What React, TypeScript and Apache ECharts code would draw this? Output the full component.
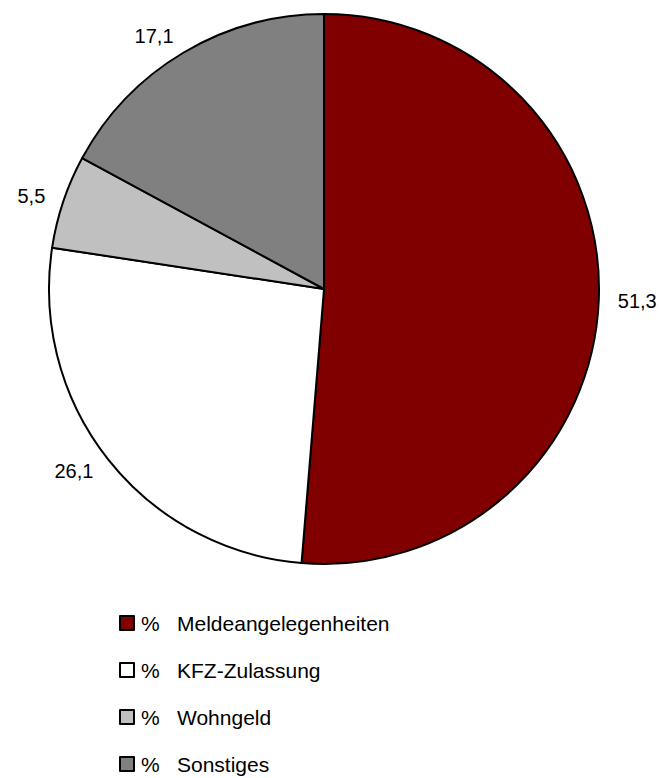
import React, { useEffect, useRef } from "react";
import * as echarts from "echarts";

const categories = ["Meldeangelegenheiten", "KFZ-Zulassung", "Wohngeld", "Sonstiges"];
const values = [51.3, 26.1, 5.5, 17.1];
const colors = ["#800000", "#FFFFFF", "#C0C0C0", "#808080"];

const FONT = "'Liberation Sans', Arial, Helvetica, sans-serif";

export default function App() {
  const ref = useRef<HTMLDivElement>(null);
  useEffect(() => {
    if (!ref.current) return;
    const chart = echarts.init(ref.current, null, { renderer: "svg" });
    chart.setOption({
      animation: false,
      backgroundColor: "#ffffff",
      legend: {
        orient: "vertical",
        left: 119,
        top: 610,
        padding: 0,
        icon: "rect",
        itemWidth: 14,
        itemHeight: 14,
        itemGap: 21,
        selectedMode: false,
        itemStyle: { borderColor: "#000000", borderWidth: 2 },
        formatter: (name: string) => `{p|%}{n|${name}}`,
        textStyle: {
          fontFamily: FONT,
          fontSize: 21,
          color: "#000000",
          lineHeight: 26,
          rich: {
            p: { width: 36, padding: [0, 0, 0, 2], fontFamily: FONT, fontSize: 21, color: "#000000", lineHeight: 26 },
            n: { fontFamily: FONT, fontSize: 21, color: "#000000", lineHeight: 26 },
          },
        },
        data: categories,
      },
      series: [
        {
          type: "pie",
          center: [324, 289],
          radius: 275,
          startAngle: 90,
          clockwise: true,
          avoidLabelOverlap: false,
          itemStyle: { borderColor: "#000000", borderWidth: 2 },
          emphasis: { disabled: true },
          label: {
            show: true,
            position: "outside",
            alignTo: "none",
            distanceToLabelLine: 0,
            fontFamily: FONT,
            fontSize: 20,
            color: "#000000",
            formatter: (p: any) => p.value.toFixed(1).replace(".", ","),
          },
          labelLine: { show: false, length: 19, length2: 0 },
          data: categories.map((c, i) => ({
            name: c,
            value: values[i],
            itemStyle: { color: colors[i] },
          })),
        },
      ],
    });
    return () => chart.dispose();
  }, []);
  return (
    <div
      ref={ref}
      style={{ position: "fixed", left: 0, top: 0, width: 659, height: 800 }}
    />
  );
}
